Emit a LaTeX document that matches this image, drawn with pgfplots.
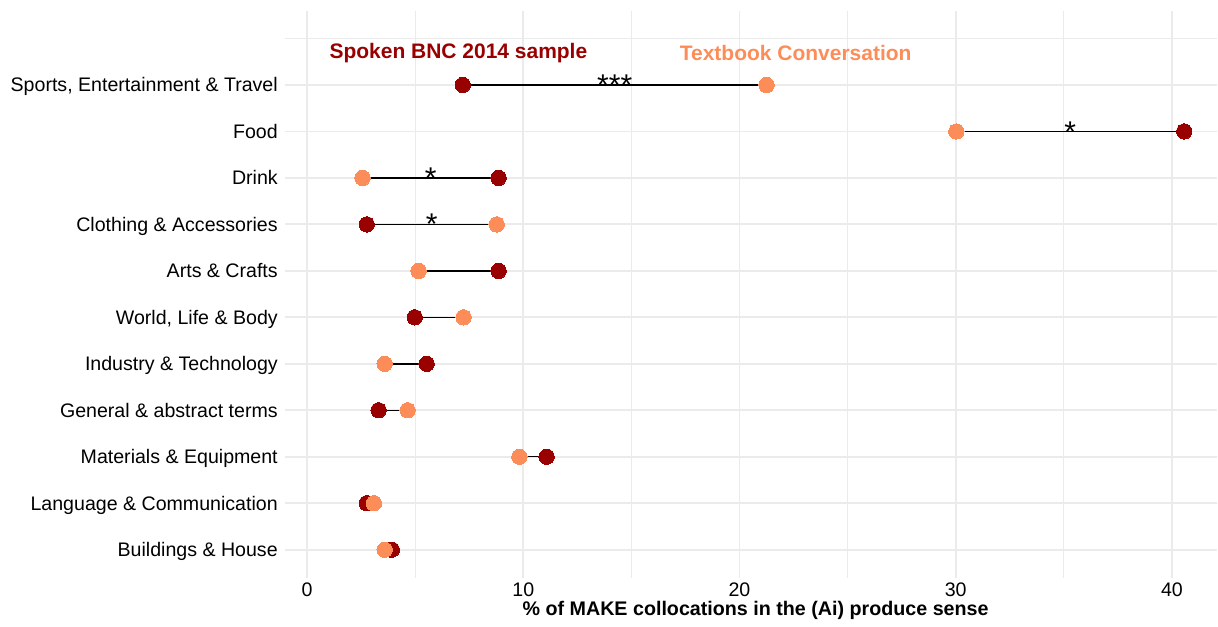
\documentclass[border=0pt]{standalone}
\usepackage{fontspec}
\setmainfont{Liberation Sans}
\usepackage{pgfplots}
\usepackage{pgfplotstable}
\pgfplotsset{compat=1.18}
\definecolor{darkc}{HTML}{990000}
\definecolor{lightc}{HTML}{FC8D59}
\definecolor{gridc}{HTML}{EBEBEB}

% row: 1 = Buildings & House ... 11 = Sports, Entertainment & Travel
\pgfplotstableread{
row dark light
1 3.92 3.59
2 2.76 3.09
3 11.08 9.82
4 3.31 4.65
5 5.53 3.59
6 4.98 7.24
7 8.86 5.16
8 2.76 8.77
9 8.86 2.57
10 40.57 30.03
11 7.20 21.25
}\datatable

\begin{document}
\begin{tikzpicture}
\begin{axis}[
  name=ax,
  at={(0,0)}, anchor=south west,
  scale only axis,
  width=466.5pt, height=283.7pt,
  xmin=-1.03, xmax=42.09,
  ymin=0.4, ymax=12.6,
  axis line style={draw=none},
  major tick length=0pt, minor tick length=0pt,
  xtick={0,10,20,30,40},
  minor xtick={5,15,25,35},
  ytick={1,2,3,4,5,6,7,8,9,10,11,12},
  yticklabels={Buildings \& House, Language \& Communication, Materials \& Equipment, General \& abstract terms, Industry \& Technology, {World, Life \& Body}, Arts \& Crafts, Clothing \& Accessories, Drink, Food, {Sports, Entertainment \& Travel}, {}},
  grid=both,
  major grid style={gridc, line width=0.9pt},
  minor grid style={gridc, line width=0.6pt},
  /pgf/number format/assume math mode=true,
  tick label style={font=\fontsize{9.8}{11}\selectfont, text=black},
  xticklabel style={anchor=base, yshift=-9.5pt},
  yticklabel style={text height=7pt, text depth=0pt},
  xlabel={\bfseries \% of MAKE collocations in the (Ai) produce sense},
  xlabel style={at={(axis description cs:0.505,0)}, anchor=base, yshift=-19pt, font=\fontsize{9.85}{11}\selectfont},
  clip=false,
]
% segments
\addplot[black, line width=0.75pt] coordinates {(3.92,1) (3.59,1)};
\addplot[black, line width=0.75pt] coordinates {(2.76,2) (3.09,2)};
\addplot[black, line width=0.75pt] coordinates {(11.08,3) (9.82,3)};
\addplot[black, line width=0.75pt] coordinates {(3.31,4) (4.65,4)};
\addplot[black, line width=0.75pt] coordinates {(5.53,5) (3.59,5)};
\addplot[black, line width=0.75pt] coordinates {(4.98,6) (7.24,6)};
\addplot[black, line width=0.75pt] coordinates {(8.86,7) (5.16,7)};
\addplot[black, line width=0.75pt] coordinates {(2.76,8) (8.77,8)};
\addplot[black, line width=0.75pt] coordinates {(8.86,9) (2.57,9)};
\addplot[black, line width=0.75pt] coordinates {(40.57,10) (30.03,10)};
\addplot[black, line width=0.75pt] coordinates {(7.20,11) (21.25,11)};
% points
\addplot[only marks, mark=*, mark size=3.85pt, mark options={fill=darkc, draw=darkc, line width=0pt}] table[x=dark, y=row] {\datatable};
\addplot[only marks, mark=*, mark size=3.85pt, mark options={fill=lightc, draw=lightc, line width=0pt}] table[x=light, y=row] {\datatable};
% significance
\node[anchor=base, inner sep=0pt, yshift=-5.3pt, font=\fontsize{15}{15}\selectfont] at (axis cs:14.23,11) {***};
\node[anchor=base, inner sep=0pt, yshift=-5.3pt, font=\fontsize{15}{15}\selectfont] at (axis cs:35.30,10) {*};
\node[anchor=base, inner sep=0pt, yshift=-5.3pt, font=\fontsize{15}{15}\selectfont] at (axis cs:5.72,9) {*};
\node[anchor=base, inner sep=0pt, yshift=-5.3pt, font=\fontsize{15}{15}\selectfont] at (axis cs:5.77,8) {*};
% legend labels
\node[font=\bfseries\fontsize{10.5}{12}\selectfont, text=darkc] at (axis cs:7.0,11.69) {Spoken BNC 2014 sample};
\node[font=\bfseries\fontsize{10.5}{12}\selectfont, text=lightc] at (axis cs:22.6,11.69) {Textbook Conversation};
\end{axis}
\path (-142.5pt,-21.5pt) rectangle (466.5pt,289pt);
\end{tikzpicture}
\end{document}
